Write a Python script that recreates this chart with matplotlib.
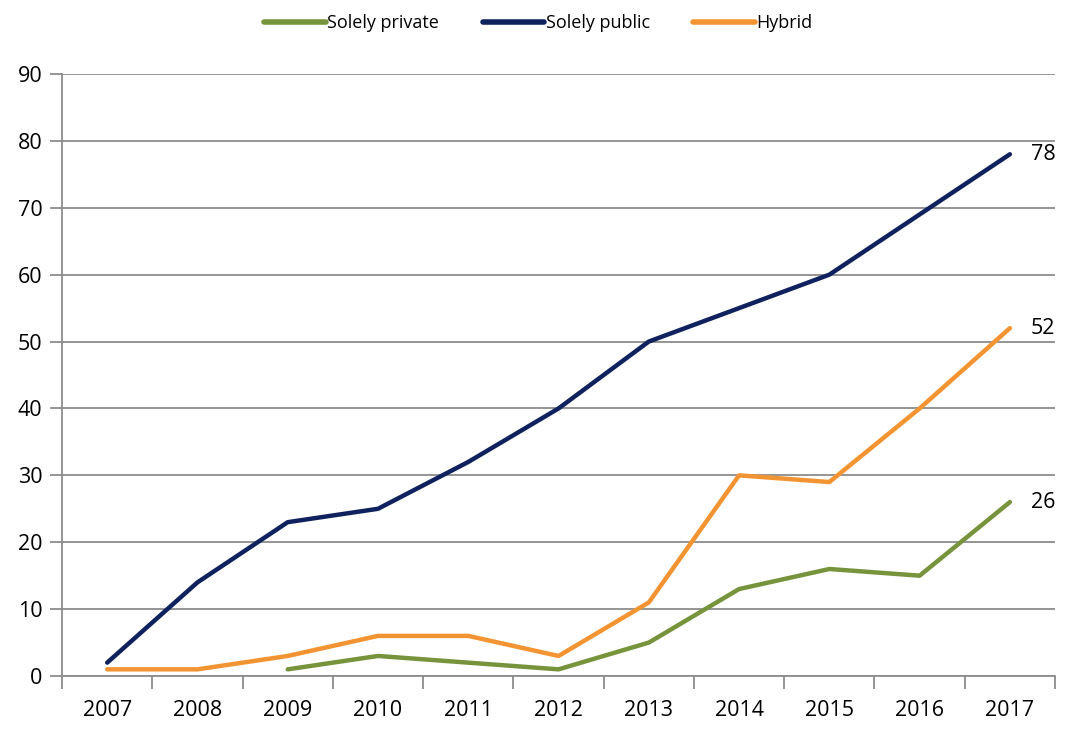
import matplotlib.pyplot as plt
import numpy as np

plt.rcParams['font.family'] = ['Open Sans', 'DejaVu Sans']

years = ['2007', '2008', '2009', '2010', '2011', '2012', '2013', '2014', '2015', '2016', '2017']
private = [np.nan, np.nan, 1, 3, 2, 1, 5, 13, 16, 15, 26]
public = [2, 14, 23, 25, 32, 40, 50, 55, 60, 69, 78]
hybrid = [1, 1, 3, 6, 6, 3, 11, 30, 29, 40, 52]

c_private = '#77933C'
c_public = '#10225E'
c_hybrid = '#F39433'
grid_c = '#8C8C8C'

fig = plt.figure(figsize=(10.66, 7.31), dpi=100)
ax = fig.add_axes([0.0582, 0.0752, 0.9315, 0.8236])

x = np.arange(len(years))
ax.plot(x, private, color=c_private, lw=3.2, solid_capstyle='round', label='Solely private')
ax.plot(x, public, color=c_public, lw=3.2, solid_capstyle='round', label='Solely public')
ax.plot(x, hybrid, color=c_hybrid, lw=3.2, solid_capstyle='round', label='Hybrid')

for series in (public, hybrid, private):
    ax.annotate(str(series[-1]), (x[-1], series[-1]), xytext=(15, 0),
                textcoords='offset points', va='center', ha='left', fontsize=15.5)

ax.set_xlim(-0.5, len(years) - 0.5)
ax.set_ylim(0, 90)
ax.set_yticks(range(0, 91, 10))
ax.yaxis.grid(True, color=grid_c, lw=1.3)
ax.set_axisbelow(True)

ax.set_xticks(np.arange(-0.5, len(years), 1))
ax.set_xticklabels([])
ax.set_xticks(x, minor=True)
ax.set_xticklabels(years, minor=True, fontsize=15.5)
ax.tick_params(axis='x', which='major', length=9, width=1.3, color=grid_c)
ax.tick_params(axis='x', which='minor', length=0, pad=17)
ax.tick_params(axis='y', length=9, width=1.3, color=grid_c, labelsize=15.5, pad=5)

for s in ('top', 'right'):
    ax.spines[s].set_visible(False)
for s in ('left', 'bottom'):
    ax.spines[s].set_color(grid_c)
    ax.spines[s].set_linewidth(1.3)

leg = fig.legend(loc='center', bbox_to_anchor=(0.505, 0.968), ncol=3, frameon=False,
                 fontsize=13, handlelength=3.4, handletextpad=0.1, columnspacing=2.4)
for line in leg.get_lines():
    line.set_linewidth(4)

fig.savefig('out.png', dpi=100)
